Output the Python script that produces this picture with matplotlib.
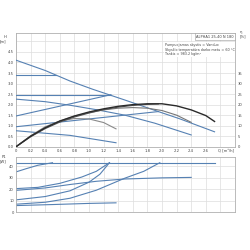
import matplotlib
matplotlib.use('Agg')
import matplotlib.pyplot as plt
import numpy as np


# TOP CHART: head curves, Q [m3/h] -> H [m]
Q_III = [0.0, 0.4, 0.74, 1.05, 1.49, 1.95, 2.24, 2.72]
H_III = [4.11, 3.62, 3.12, 2.73, 2.22, 1.67, 1.33, 0.71]

Q_CP3 = [0.0, 0.55]
H_CP3 = [3.40, 3.40]

Q_CP2 = [0.0, 1.30]
H_CP2 = [2.46, 2.46]

Q_II = [0.0, 0.4, 0.74, 1.1, 1.49, 1.9, 2.4]
H_II = [2.26, 2.14, 1.97, 1.76, 1.50, 1.12, 0.56]

Q_PP3 = [0.0, 1.30]
H_PP3 = [1.46, 2.47]

Q_PP2 = [0.0, 1.95]
H_PP2 = [0.95, 1.67]

Q_I = [0.0, 0.74, 1.37]
H_I = [0.76, 0.54, 0.19]

# efficiency curves, right axis [%]
Q_ETA_III = [0.0, 0.2, 0.4, 0.6, 0.8, 1.0, 1.2, 1.4, 1.6, 1.8, 2.0, 2.2, 2.4, 2.6, 2.72]
ETA_III = [0.0, 5.0, 9.0, 12.2, 14.6, 16.5, 18.0, 19.2, 20.0, 20.4, 20.4, 19.4, 17.5, 14.8, 12.0]

Q_ETA_X = [0.0, 0.2, 0.4, 0.6, 0.8, 1.0, 1.2, 1.4, 1.6, 1.8, 1.95]
ETA_X = [0.0, 4.7, 8.6, 11.7, 14.1, 16.0, 17.6, 18.8, 19.6, 20.1, 20.3]

Q_ETA_II = [0.0, 0.2, 0.4, 0.6, 0.8, 1.0, 1.2, 1.4, 1.6, 1.8, 2.0, 2.2, 2.4]
ETA_II = [0.0, 5.0, 9.0, 12.2, 14.5, 16.2, 17.5, 18.3, 18.6, 18.3, 17.2, 15.0, 11.6]

Q_ETA_I = [0.0, 0.2, 0.4, 0.6, 0.8, 1.0, 1.2, 1.37]
ETA_I = [0.0, 5.2, 9.5, 12.2, 13.4, 13.2, 11.5, 8.5]

# BOTTOM CHART: power P1 [W]
Q_P_III = [0.0, 2.72]
P_III = [43.0, 43.0]

Q_P_CP3 = [0.0, 0.15, 0.3, 0.5]
P_CP3 = [35.0, 38.0, 40.8, 43.0]

Q_P_CP2 = [0.0, 0.3, 0.6, 0.9, 1.1, 1.28]
P_CP2 = [20.4, 21.5, 25.0, 30.5, 35.5, 43.0]

Q_P_PP3 = [0.0, 0.4, 0.74, 1.0, 1.15, 1.28]
P_PP3 = [10.6, 13.5, 18.5, 26.0, 33.0, 43.0]

Q_P_II = [0.0, 0.4, 0.74, 1.1, 1.49, 2.0, 2.4]
P_II = [18.9, 21.0, 24.0, 26.8, 28.8, 29.8, 30.2]

Q_P_PP2 = [0.0, 0.4, 0.74, 1.1, 1.49, 1.75, 1.97]
P_PP2 = [6.8, 8.5, 12.0, 19.0, 29.5, 35.5, 43.0]

Q_P_I = [0.0, 0.5, 1.0, 1.37]
P_I = [5.6, 6.5, 7.5, 8.0]

X_TICKS = [0, 0.2, 0.4, 0.6, 0.8, 1.0, 1.2, 1.4, 1.6, 1.8, 2.0, 2.2, 2.4, 2.6, 2.8]
X_LABELS = ['0', '0.2', '0.4', '0.6', '0.8', '1.0', '1.2', '1.4', '1.6', '1.8',
            '2.0', '2.2', '2.4', '2.6', '']
H_TICKS = [0.0, 0.5, 1.0, 1.5, 2.0, 2.5, 3.0, 3.5, 4.0, 4.5, 5.0]
ETA_TICKS = [0, 5, 10, 15, 20, 25, 30, 35]
P_TICKS = [0, 10, 20, 30, 40]

BLUE = '#5681b3'
FS = 2.7
TXT = '#444444'
GRID = '#dddddd'
SPINE = '#b0b0b0'


def style_axes(ax):
    for s in ax.spines.values():
        s.set_color(SPINE)
        s.set_linewidth(0.6)
    ax.tick_params(length=0, labelsize=FS, colors=TXT, pad=1.5)
    ax.grid(True, color=GRID, linewidth=0.5)
    ax.set_axisbelow(True)


fig = plt.figure(figsize=(2.5, 2.5), dpi=100)

# TOP AXES
ax = fig.add_axes([0.064, 0.413, 0.876, 0.455])
style_axes(ax)
ax.set_xlim(0, 3.0)
ax.set_ylim(0, 5.4)
ax.set_xticks(X_TICKS)
ax.set_xticklabels(X_LABELS)
ax.set_yticks(H_TICKS)
ax.set_yticklabels([f'{v:.1f}' for v in H_TICKS[:-1]] + [''])

for q, h in [(Q_III, H_III), (Q_CP3, H_CP3), (Q_CP2, H_CP2), (Q_II, H_II),
             (Q_PP3, H_PP3), (Q_PP2, H_PP2), (Q_I, H_I)]:
    ax.plot(q, h, color=BLUE, lw=0.8, zorder=3)

axr = ax.twinx()
axr.set_ylim(0, 54)
axr.set_yticks(ETA_TICKS)
axr.tick_params(length=0, labelsize=FS, colors=TXT, pad=2)
for s in axr.spines.values():
    s.set_visible(False)
axr.plot(Q_ETA_I, ETA_I, color='#8a8a8a', lw=0.8)
axr.plot(Q_ETA_II, ETA_II, color='#777777', lw=0.8)
axr.plot(Q_ETA_X, ETA_X, color='#555555', lw=0.8)
axr.plot(Q_ETA_III, ETA_III, color='#2a2a2a', lw=1.0)

ax.text(-0.045, 0.985, 'H\n[m]', transform=ax.transAxes, fontsize=FS,
        color=TXT, ha='right', va='top', linespacing=1.1)
axr.text(1.02, 1.03, 'η\n[%]', transform=ax.transAxes, fontsize=FS,
         color=TXT, ha='left', va='top', linespacing=1.1)
ax.text(2.77, -0.1, 'Q [m³/h]', fontsize=FS, color=TXT, ha='left', va='top')

ax.text(0.995, 0.985, 'ALPHA1 25-40 N 180', transform=ax.transAxes,
        fontsize=2.6, color=TXT, ha='right', va='top',
        bbox=dict(boxstyle='square,pad=0.4', fc='white', ec='#999999', lw=0.4))
ax.text(0.68, 0.915,
        'Pumpuojamas skystis = Vanduo\n'
        'Skysčio temperatūra darbo metu = 60 °C\n'
        'Tankis = 983.2 kg/m³',
        transform=ax.transAxes, fontsize=2.4, color=TXT, ha='left', va='top',
        linespacing=1.3,
        bbox=dict(boxstyle='square,pad=0.2', fc='white', ec='none'))

# BOTTOM AXES
ax2 = fig.add_axes([0.064, 0.152, 0.876, 0.22])
style_axes(ax2)
ax2.set_xlim(0, 3.0)
ax2.set_ylim(0, 48)
ax2.set_xticks(X_TICKS)
ax2.set_xticklabels([])
ax2.set_yticks(P_TICKS)

for q, p in [(Q_P_III, P_III), (Q_P_CP3, P_CP3), (Q_P_CP2, P_CP2),
             (Q_P_PP3, P_PP3), (Q_P_II, P_II), (Q_P_PP2, P_PP2), (Q_P_I, P_I)]:
    ax2.plot(q, p, color=BLUE, lw=0.8)

ax2.text(-0.045, 1.04, 'P1\n[W]', transform=ax2.transAxes, fontsize=FS,
         color=TXT, ha='right', va='top', linespacing=1.1)

fig.savefig('out.png', dpi=100, facecolor='white')
